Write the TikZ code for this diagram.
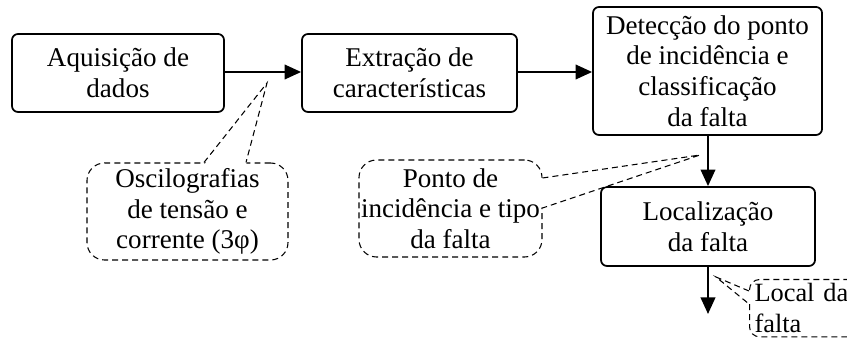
\documentclass[tikz,border=0pt]{standalone}
\usepackage{fontspec}
\setmainfont{Liberation Serif}
\usetikzlibrary{arrows.meta,calc}
\tikzset{
  >={Triangle[length=3.3mm,width=2.9mm]},
  txt/.style={font=\fontsize{15.4}{17.5}\selectfont},
  stagebox/.style={txt,draw,rounded corners=0.12cm,line width=1pt,
    align=center,inner sep=0pt},
  flowarr/.style={->,line width=1.2pt},
  callbox/.style={txt,draw,dashed,dash pattern=on 3.4pt off 2.3pt,
    line width=0.6pt,rounded corners=0.35cm,align=center,inner sep=0pt},
  callptr/.style={dashed,dash pattern=on 3.4pt off 2.3pt,line width=0.6pt},
}

\begin{document}
\begin{tikzpicture}
  \path[use as bounding box,clip] (0,0) rectangle (16.94,6.9);
  % ---- processing stages ----
  \node[stagebox,minimum width=4.24cm,minimum height=1.56cm] (aq) at (2.36,5.44)
    {Aquisição de\\dados};
  \node[stagebox,minimum width=4.3cm,minimum height=1.56cm] (ex) at (8.19,5.44)
    {Extração de\\características};
  \node[stagebox,minimum width=4.58cm,minimum height=2.56cm] (det) at (14.15,5.48)
    {Detecção do ponto\\de incidência e\\classificação\\da falta};
  \node[stagebox,minimum width=4.28cm,minimum height=1.58cm] (loc) at (14.16,2.37)
    {Localização\\da falta};
  \coordinate (out) at (14.16,0.62);
  \draw[flowarr] (aq.east |- 0,5.46) -- (ex.west |- 0,5.46);
  \draw[flowarr] (ex.east |- 0,5.46) -- (det.west |- 0,5.46);
  \draw[flowarr] (det.south -| 14.16,0) -- (loc.north);
  \draw[flowarr] (loc.south) -- (out);
  % ---- callouts ----
  \node[callbox,minimum width=4.02cm,minimum height=1.94cm] (osc) at (3.75,2.67)
    {Oscilografias\\de tensão e\\corrente (3φ)};
  \coordinate (osctip) at (5.34,5.24);
  \fill[white] ($(osc.north)+(0.33,-0.05)$) -- (osctip) -- ($(osc.north)+(1.17,-0.05)$) -- cycle;
  \draw[callptr] ($(osc.north)+(0.33,0)$) -- (osctip) -- ($(osc.north)+(1.17,0)$);

  \node[callbox,minimum width=3.66cm,minimum height=1.94cm] (pt) at (9.01,2.73)
    {Ponto de\\incidência e tipo\\da falta};
  \coordinate (pttip) at (14.0,3.8);
  \fill[white] ($(pt.east)+(-0.05,0.61)$) -- (pttip) -- ($(pt.east)+(-0.05,0.01)$) -- cycle;
  \draw[callptr] ($(pt.east)+(0,0.61)$) -- (pttip) -- ($(pt.east)+(0,0.01)$);

  \node[callbox,rounded corners=0.2cm,align=left,anchor=north west,
    inner xsep=0.1cm,inner ysep=0.08cm,text width=3cm,
    font=\fontsize{15}{17.5}\selectfont] (lf) at (14.98,1.32)
    {Local da\\falta};
  \coordinate (lftip) at (14.32,1.36);
  \fill[white] ($(lf.north west)+(0.05,-0.24)$) -- (lftip) -- ($(lf.north west)+(0.05,-0.5)$) -- cycle;
  \draw[callptr] ($(lf.north west)+(0,-0.24)$) -- (lftip) -- ($(lf.north west)+(0,-0.5)$);
\end{tikzpicture}
\end{document}
